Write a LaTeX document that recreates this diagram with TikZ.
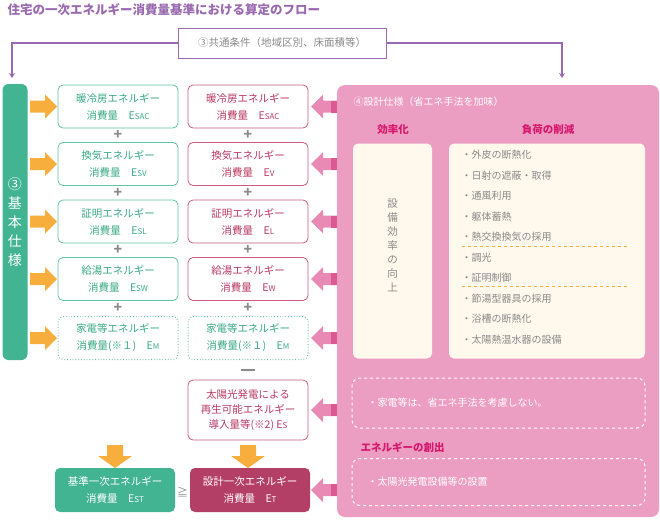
\documentclass[tikz,border=0pt]{standalone}
\usepackage{fontspec}
\setmainfont{Noto Sans CJK JP}
\usetikzlibrary{positioning,arrows.meta}
\definecolor{grn}{HTML}{3BAA86}
\definecolor{grnb}{HTML}{62C3A3}
\definecolor{grnf}{HTML}{42B491}
\definecolor{rd}{HTML}{B83A62}
\definecolor{rdb}{HTML}{C95A80}
\definecolor{rdf}{HTML}{B43F66}
\definecolor{org}{HTML}{F7AE3C}
\definecolor{pnk}{HTML}{EC9DC2}
\definecolor{pnkd}{HTML}{DC5A92}
\definecolor{pnka}{HTML}{E98AB5}
\definecolor{crm}{HTML}{FFF8EC}
\definecolor{prp}{HTML}{9A6AB0}
\definecolor{gry}{HTML}{8A8A8A}
\definecolor{mag}{HTML}{D6176E}
\newcommand{\sm}[1]{{\fontsize{8}{9}\selectfont #1}}
\tikzset{
 x=1pt,y=-1pt,
 lbox/.style={draw=grnb,line width=0.8pt,rounded corners=5pt,fill=white,text=grn,minimum width=120pt,minimum height=43pt,align=center,font=\fontsize{10.5}{17}\selectfont,inner sep=1pt},
 rbox/.style={lbox,draw=rdb,text=rd},
 lbd/.style={lbox,dotted,line width=1pt},
 fbox/.style={rounded corners=5pt,text=white,minimum width=120pt,minimum height=44pt,align=center,font=\fontsize{10.5}{17}\selectfont,inner sep=1pt},
 sym/.style={text=gry,font=\fontsize{14}{14}\selectfont\bfseries},
 dbox/.style={draw=white,dashed,line width=1pt,rounded corners=8pt},
 item/.style={text=gry,anchor=west,font=\fontsize{10}{12}\selectfont},
 hd/.style={text=mag,font=\fontsize{10.5}{12}\selectfont\bfseries},
}
\newcommand{\oarr}[1]{\fill[org] (30,#1-6)--(45,#1-6)--(45,#1-12)--(57,#1)--(45,#1+12)--(45,#1+6)--(30,#1+6)--cycle;}
\newcommand{\parr}[1]{\fill[pnka] (311,#1)--(323,#1-12)--(323,#1-6)--(337,#1-6)--(337,#1+6)--(323,#1+6)--(323,#1+12)--cycle;\fill[pnkd](331,#1-6) rectangle (337,#1+6);}
\newcommand{\darr}[1]{\fill[org] (#1-8,445)--(#1+8,445)--(#1+8,456)--(#1+17,456)--(#1,468)--(#1-17,456)--(#1-8,456)--cycle;}
\begin{document}
\begin{tikzpicture}
\useasboundingbox (0,0) rectangle (660,519);
\node[anchor=west,text=prp,font=\fontsize{12.5}{14}\selectfont\bfseries] (title) at (4,10) {住宅の一次エネルギー消費量基準における算定のフロー};
\node[draw=prp,line width=0.8pt,minimum width=208pt,minimum height=30pt,text=gry,font=\fontsize{10.5}{12}\selectfont,inner sep=1pt] (cc) at (282,43) {③共通条件（地域区別、床面積等）};
\coordinate (la) at (12,78);\coordinate (ra) at (562,78);
\draw[prp,line width=1.2pt,-{Stealth[length=5pt,width=6pt]}] (cc.west) -| (la);
\draw[prp,line width=1.2pt,-{Stealth[length=5pt,width=6pt]}] (cc.east) -| (ra);
% left bar
\node[fill=grnf,rounded corners=6pt,minimum width=25pt,minimum height=276pt,text=white,align=center,font=\fontsize{14}{19}\selectfont,inner sep=0pt] (kb) at (15,222) {③\\基\\本\\仕\\様};
% pink panel
\fill[pnk,rounded corners=8pt] (337,85) rectangle (659,517);
\node[anchor=west,text=white,font=\fontsize{10}{12}\selectfont] (p4) at (350,102) {④設計仕様（省エネ手法を加味）};
\node[hd] (h1) at (393,130) {効率化};
\node[hd] (h2) at (548,130) {負荷の削減};
\node[fill=crm,rounded corners=5pt,minimum width=79pt,minimum height=215pt,inner sep=0pt] (c1) at (392.5,251) {};
\node[text=gry,align=center,font=\fontsize{10.5}{14}\selectfont] (vt) at (392.5,245) {設\\備\\効\\率\\の\\向\\上};
\node[fill=crm,rounded corners=5pt,minimum width=196pt,minimum height=215pt,inner sep=0pt] (c2) at (547,251) {};
\foreach \t [count=\i] in {外皮の断熱化,日射の遮蔽・取得,通風利用,躯体蓄熱,熱交換換気の採用,調光,証明制御,節湯型器具の採用,浴槽の断熱化,太陽熱温水器の設備}
  \node[item] (it\i) at (458,134.5+\i*20.5) {・\t};
\draw[org,dashed,line width=1pt] (462,246) -- (628,246);
\draw[org,dashed,line width=1pt] (462,286) -- (628,286);
\node[dbox,minimum width=293pt,minimum height=50pt] (d1) at (498.5,403) {};
\node[anchor=west,text=white,font=\fontsize{10}{12}\selectfont] (d1t) at (364,403) {・家電等は、省エネ手法を考慮しない。};
\node[hd,anchor=west] (h3) at (357,447) {エネルギーの創出};
\node[dbox,minimum width=293pt,minimum height=47pt] (d2) at (498.5,482) {};
\node[anchor=west,text=white,font=\fontsize{10}{12}\selectfont] (d2t) at (364,482) {・太陽光発電設備等の設置};
% boxes
\node[lbox] (l1) at (118,106.5) {暖冷房エネルギー\\消費量\quad E\sm{SAC}};
\node[lbox] (l2) at (118,164) {換気エネルギー\\消費量\quad E\sm{SV}};
\node[lbox] (l3) at (118,221.5) {証明エネルギー\\消費量\quad E\sm{SL}};
\node[lbox] (l4) at (118,279) {給湯エネルギー\\消費量\quad E\sm{SW}};
\node[lbd] (l5) at (118,338) {家電等エネルギー\\消費量(※１)\quad E\sm{M}};
\node[rbox] (r1) at (248,106.5) {暖冷房エネルギー\\消費量\quad E\sm{SAC}};
\node[rbox] (r2) at (248,164) {換気エネルギー\\消費量\quad E\sm{V}};
\node[rbox] (r3) at (248,221.5) {証明エネルギー\\消費量\quad E\sm{L}};
\node[rbox] (r4) at (248,279) {給湯エネルギー\\消費量\quad E\sm{W}};
\node[lbd] (r5) at (248,338) {家電等エネルギー\\消費量(※１)\quad E\sm{M}};
\foreach \y in {135,192.5,250,308}{\node[sym] at (118,\y) {+};\node[sym] at (248,\y) {+};}
\node[sym] (mn) at (248,370) {\rule{14pt}{2.5pt}};
\node[rbox,minimum height=60pt,font=\fontsize{10.5}{15}\selectfont] (sol) at (248,410) {太陽光発電による\\再生可能エネルギー\\導入量等(※2)\ E\sm{S}};
\node[fbox,fill=grnf] (bst) at (115,490) {基準一次エネルギー\\消費量\quad E\sm{ST}};
\node[fbox,fill=rdf] (bt) at (250,490) {設計一次エネルギー\\消費量\quad E\sm{T}};
\node[text=gry,font=\fontsize{11}{12}\selectfont] (ge) at (182.5,492) {≧};
% arrows
\foreach \y in {106.5,164,221.5,279,338} {\oarr{\y}\parr{\y}}
\parr{410}\parr{490}
\darr{115}\darr{248}
\end{tikzpicture}
\end{document}
